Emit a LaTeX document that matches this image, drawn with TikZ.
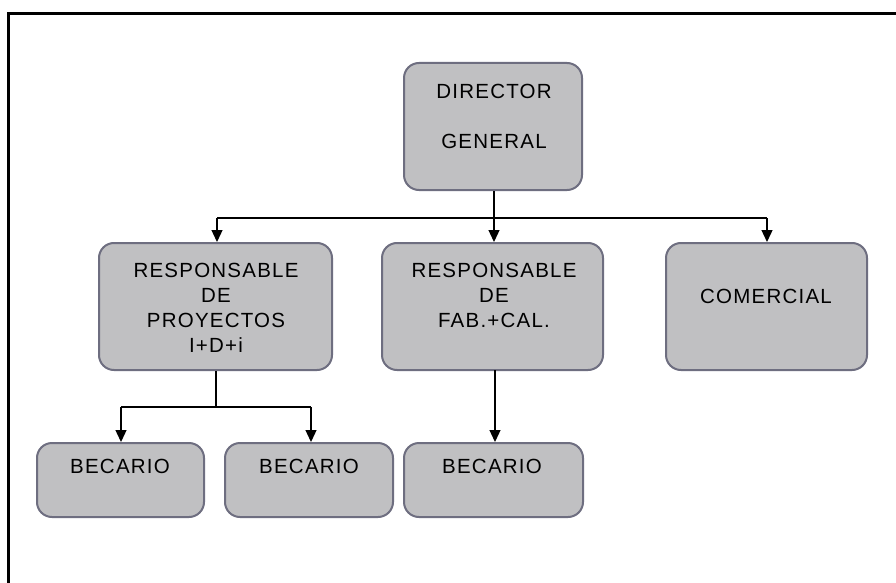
\documentclass[tikz,border=0pt]{standalone}
\usepackage{fontspec}
\setmainfont{Liberation Sans}[LetterSpace=6]
\usetikzlibrary{arrows.meta}
\definecolor{boxfill}{HTML}{C0C0C2}
\definecolor{boxline}{HTML}{6E6E80}
\tikzset{
  unit/.style={rectangle, rounded corners=15pt, draw=boxline, line width=2pt,
               fill=boxfill, inner sep=0pt},
  lbl/.style={anchor=base, align=center, inner sep=0pt,
              font=\fontsize{20.5}{24.7}\selectfont},
  link/.style={line width=1.3pt, black},
  tolink/.style={link, -{Triangle[width=11pt,length=12pt]}}
}
\begin{document}
\begin{tikzpicture}[x=1pt,y=-1pt]
\useasboundingbox (0,0) rectangle (896,583);
\fill[white] (0,0) rectangle (896,583);
% outer frame
\begin{scope}
\clip (0,0) rectangle (896,583);
\draw[line width=3pt] (8,14) rectangle (905,600);
\end{scope}

% boxes
\node[unit, minimum width=178pt, minimum height=127pt] (dir) at (493,126.5) {};
\node[unit, minimum width=233pt, minimum height=127pt] (proy) at (215.5,306.5) {};
\node[unit, minimum width=221pt, minimum height=127pt] (fab) at (492.5,306.5) {};
\node[unit, minimum width=201pt, minimum height=127pt] (com) at (766.5,306.5) {};
\node[unit, minimum width=167pt, minimum height=74pt] (bec1) at (120.5,480) {};
\node[unit, minimum width=168pt, minimum height=74pt] (bec2) at (309,480) {};
\node[unit, minimum width=179pt, minimum height=74pt] (bec3) at (493.5,480) {};

% labels (anchored on the baseline of their last line)
\node[lbl] (tdir) at (494,148) {DIRECTOR\\[25.3pt]GENERAL};
\node[lbl] (tproy) at (216,352) {RESPONSABLE\\DE\\PROYECTOS\\I+D+i};
\node[lbl] (tfab) at (494,327) {RESPONSABLE\\DE\\FAB.+CAL.};
\node[lbl] (tcom) at (766,303) {COMERCIAL};
\node[lbl] (tb1) at (120,473) {BECARIO};
\node[lbl] (tb2) at (309,473) {BECARIO};
\node[lbl] (tb3) at (492,473) {BECARIO};

% connectors
\coordinate (hub) at (494,218);
\coordinate (hl) at (217,218);
\coordinate (hr) at (767,218);
\draw[link] (dir.south -| hub) -- (hub);
\draw[link] (hl) -- (hr);
\draw[tolink] (hub) -- (hub |- fab.north);
\draw[tolink] (hl) -- (hl |- proy.north);
\draw[tolink] (hr) -- (hr |- com.north);

\coordinate (sub) at (216,407);
\coordinate (sl) at (121,407);
\coordinate (sr) at (311,407);
\draw[link] (proy.south -| sub) -- (sub);
\draw[link] (sl) -- (sr);
\draw[tolink] (sl) -- (sl |- bec1.north);
\draw[tolink] (sr) -- (sr |- bec2.north);

\coordinate (fb) at (495,370);
\draw[tolink] (fb) -- (fb |- bec3.north);
\end{tikzpicture}
\end{document}
